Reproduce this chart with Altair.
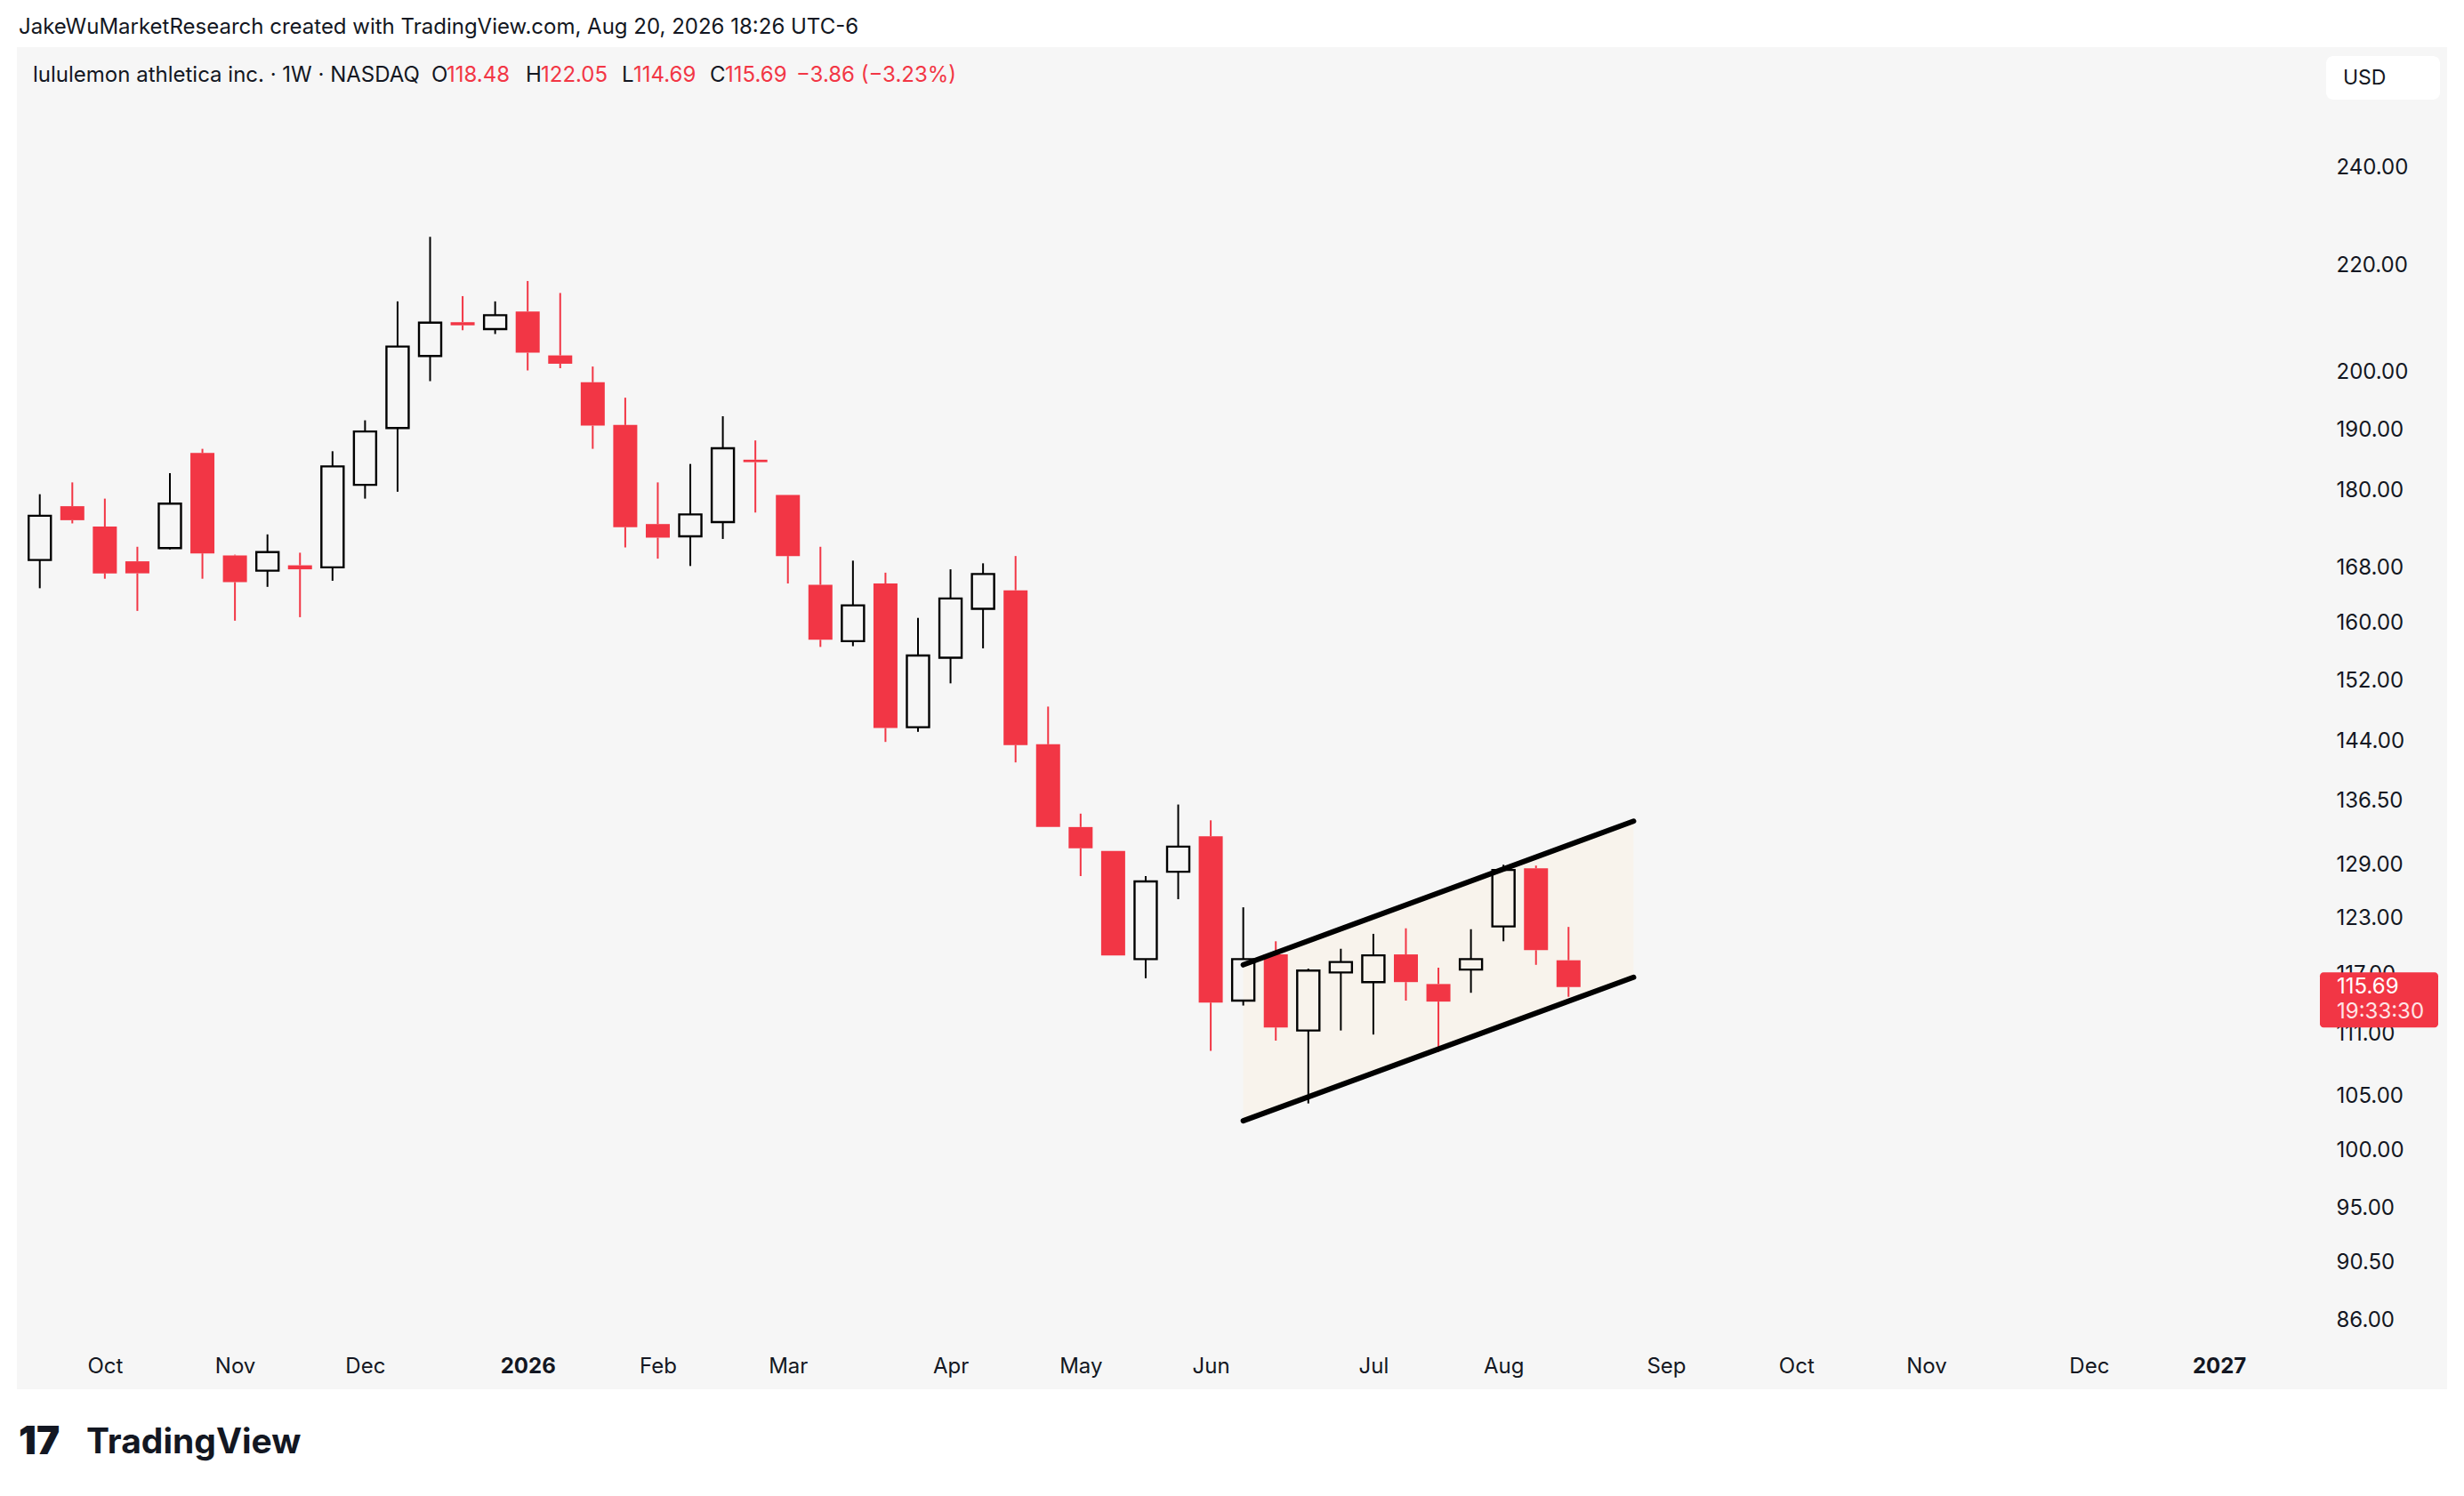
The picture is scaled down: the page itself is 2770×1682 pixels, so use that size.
import altair as alt
import pandas as pd
import numpy as np

# ---------------- data ----------------
dates = [
    "2025-09-22", "2025-09-29", "2025-10-06", "2025-10-13", "2025-10-20", "2025-10-27",
    "2025-11-03", "2025-11-10", "2025-11-17", "2025-11-24", "2025-12-01", "2025-12-08",
    "2025-12-15", "2025-12-22", "2025-12-29", "2026-01-05", "2026-01-12", "2026-01-19",
    "2026-01-26", "2026-02-02", "2026-02-09", "2026-02-16", "2026-02-23", "2026-03-02",
    "2026-03-09", "2026-03-16", "2026-03-23", "2026-03-30", "2026-04-06", "2026-04-13",
    "2026-04-20", "2026-04-27", "2026-05-04", "2026-05-11", "2026-05-18", "2026-05-25",
    "2026-06-01", "2026-06-08", "2026-06-15", "2026-06-22", "2026-06-29", "2026-07-06",
    "2026-07-13", "2026-07-20", "2026-07-27", "2026-08-03", "2026-08-10", "2026-08-17",
]
opens = [169.2, 177.5, 174.3, 169.0, 171.0, 186.1, 169.9, 167.6, 168.4, 168.1, 180.9, 190.3,
         202.9, 209.1, 207.8, 211.1, 203.0, 198.2, 190.8, 174.7, 172.8, 175.0, 185.0, 179.3,
         165.5, 157.4, 165.7, 145.8, 155.1, 162.0, 164.7, 143.6, 133.4, 130.6, 118.6, 128.2,
         132.3, 114.3, 119.1, 111.3, 117.2, 116.2, 119.1, 116.0, 117.5, 122.1, 128.6, 118.48]
highs = [179.4, 181.3, 178.7, 171.2, 182.8, 186.8, 170.0, 173.1, 170.3, 186.4, 191.6, 213.0,
         225.6, 214.0, 213.0, 216.9, 214.6, 201.0, 195.5, 181.3, 184.3, 192.3, 188.2, 179.3,
         171.2, 169.1, 167.3, 160.7, 167.8, 168.7, 169.8, 148.5, 135.0, 130.6, 127.7, 136.1,
         134.2, 124.2, 120.5, 117.6, 119.7, 121.3, 121.9, 117.7, 121.8, 129.0, 128.9, 122.05]
lows = [165.0, 174.8, 166.4, 161.7, 170.8, 166.4, 160.3, 165.2, 160.8, 166.1, 178.7, 179.8,
        198.4, 207.6, 206.9, 200.3, 200.7, 186.8, 171.1, 169.4, 168.3, 172.4, 176.5, 165.7,
        156.6, 156.7, 143.9, 145.2, 151.6, 156.4, 141.3, 133.4, 127.7, 119.0, 116.6, 125.1,
        109.3, 113.8, 110.3, 104.3, 111.3, 110.9, 114.3, 109.2, 115.1, 120.5, 118.0, 114.69]
closes = [176.0, 175.3, 167.2, 167.2, 177.9, 170.2, 165.9, 170.4, 167.8, 183.9, 189.7, 204.6,
          209.0, 208.5, 210.4, 203.5, 201.5, 190.7, 174.2, 172.6, 176.2, 186.9, 184.6, 169.8,
          157.6, 162.5, 145.7, 155.4, 163.5, 167.1, 143.5, 133.4, 130.9, 119.0, 127.1, 131.1,
          114.1, 118.6, 111.6, 117.4, 118.3, 119.0, 116.2, 114.2, 118.6, 128.4, 119.55, 115.69]

# rising channel drawing
channel_dates = ["2026-06-08", "2026-08-31"]
channel_upper = [118.0, 134.1]
channel_lower = [102.7, 116.7]

# axis ticks
price_ticks = [240, 220, 200, 190, 180, 168, 160, 152, 144, 136.5, 129, 123, 117, 111,
               105, 100, 95, 90.5, 86]
month_tick_dates = [(2025, 10, 6), (2025, 11, 3), (2025, 12, 1), (2026, 1, 5), (2026, 2, 2),
                    (2026, 3, 2), (2026, 4, 6), (2026, 5, 4), (2026, 6, 1), (2026, 7, 6),
                    (2026, 8, 3), (2026, 9, 7), (2026, 10, 5), (2026, 11, 2), (2026, 12, 7),
                    (2027, 1, 4)]

header_text = "JakeWuMarketResearch created with TradingView.com, Aug 20, 2026 18:26 UTC-6"
symbol_text = "lululemon athletica inc. · 1W · NASDAQ"
change_text = "\u22123.86 (\u22123.23%)"
countdown_text = "19:33:30"
currency_text = "USD"

# ---------------- styling ----------------
RED = "#F23645"
INK = "#131722"
PANEL = "#F6F6F6"
FONT = "Inter"

W, H = 2732, 1509

df = pd.DataFrame({"date": dates, "open": opens, "high": highs, "low": lows, "close": closes})
df["top"] = df[["open", "close"]].max(axis=1)
df["bot"] = df[["open", "close"]].min(axis=1)
df["dir"] = np.where(df["close"] >= df["open"], "up", "down")

xscale = alt.Scale(
    type="utc",
    domain=[alt.DateTime(year=2025, month=9, date=18, hours=0, minutes=48, utc=True),
            alt.DateTime(year=2027, month=2, date=21, hours=2, minutes=55, utc=True)],
    nice=False,
)
yscale = alt.Scale(type="log", domain=[80.87, 267.1], nice=False)

xaxis = alt.Axis(
    values=[alt.DateTime(year=y, month=m, date=d, utc=True) for (y, m, d) in month_tick_dates],
    labelExpr="utcmonth(datum.value) == 0 ? utcFormat(datum.value, '%Y') : utcFormat(datum.value, '%b')",
    labelFontWeight={"condition": {"test": "utcmonth(datum.value) == 0", "value": "bold"}, "value": "normal"},
    title=None, grid=False, domain=False, ticks=False, tickSize=0,
    labelPadding=0, offset=-26, labelBaseline="middle", labelAlign="center",
    labelOverlap=False, labelFlush=False, labelBound=False,
    labelFont=FONT, labelFontSize=24, labelColor=INK,
)
yaxis = alt.Axis(
    values=price_ticks, format=".2f", orient="right",
    title=None, grid=False, domain=False, ticks=False, tickSize=0,
    labelPadding=0, offset=-125, labelAlign="left", labelBaseline="middle",
    labelOverlap=False, labelFlush=False, labelBound=False,
    labelFont=FONT, labelFontSize=24, labelColor=INK, zindex=0,
)

dir_color = alt.Color("dir:N", scale=alt.Scale(domain=["up", "down"], range=["#000000", RED]), legend=None)

base = alt.Chart(df)

# channel background
ch_df = pd.DataFrame({"date": channel_dates, "upper": channel_upper, "lower": channel_lower})
channel_fill = alt.Chart(ch_df).mark_area(color="#F8F3EC", opacity=1).encode(
    x=alt.X("date:T", scale=xscale, axis=xaxis),
    y=alt.Y("upper:Q", scale=yscale, axis=yaxis),
    y2="lower:Q",
)

upper_wick = base.mark_rule(strokeWidth=2).encode(
    x=alt.X("date:T", scale=xscale),
    y=alt.Y("high:Q", scale=yscale),
    y2="top:Q",
    color=dir_color,
)
lower_wick = base.mark_rule(strokeWidth=2).encode(
    x=alt.X("date:T", scale=xscale),
    y=alt.Y("bot:Q", scale=yscale),
    y2="low:Q",
    color=dir_color,
)
down_body = base.transform_filter(alt.datum.dir == "down").mark_bar(size=27, color=RED).encode(
    x=alt.X("date:T", scale=xscale),
    y=alt.Y("open:Q", scale=yscale),
    y2="close:Q",
)
up_body = base.transform_filter(alt.datum.dir == "up").mark_bar(
    size=25, fill="transparent", stroke="#000000", strokeWidth=2.4
).encode(
    x=alt.X("date:T", scale=xscale),
    y=alt.Y("open:Q", scale=yscale),
    y2="close:Q",
)

ch_long = pd.DataFrame({
    "date": channel_dates + channel_dates,
    "price": channel_upper + channel_lower,
    "line": ["upper", "upper", "lower", "lower"],
})
channel_lines = alt.Chart(ch_long).mark_line(color="#000000", strokeWidth=6, strokeCap="round").encode(
    x=alt.X("date:T", scale=xscale),
    y=alt.Y("price:Q", scale=yscale),
    detail="line:N",
)

# last price tag on the price scale
last_df = pd.DataFrame({"p": [closes[-1]], "lbl": [f"{closes[-1]:.2f}"], "cd": [countdown_text]})
price_tag = alt.Chart(last_df).mark_rect(color=RED, cornerRadius=4, yOffset=-16.5, y2Offset=45.5).encode(
    x=alt.value(2589), x2=alt.value(2722),
    y=alt.Y("p:Q", scale=yscale), y2="p:Q",
)
price_tag_text = alt.Chart(last_df).mark_text(
    align="left", baseline="middle", font=FONT, fontSize=24, color="#FFFFFF"
).encode(x=alt.value(2608), y=alt.Y("p:Q", scale=yscale), text="lbl:N")
price_tag_cd = alt.Chart(last_df).mark_text(
    align="left", baseline="middle", font=FONT, fontSize=24, color="#FFE4E6", dy=28
).encode(x=alt.value(2608), y=alt.Y("p:Q", scale=yscale), text="cd:N")


def label(text, x, y, size=24, color=INK, weight="normal", align="left", baseline="middle"):
    return alt.Chart(pd.DataFrame({"t": [text]})).mark_text(
        align=align, baseline=baseline, font=FONT, fontSize=size, color=color, fontWeight=weight
    ).encode(x=alt.value(x), y=alt.value(y), text="t:N")


usd_box = alt.Chart(pd.DataFrame({"t": [currency_text]})).mark_rect(
    color="#FFFFFF", cornerRadius=8
).encode(x=alt.value(2596), x2=alt.value(2724), y=alt.value(10), y2=alt.value(59))

texts = [
    label(header_text, 2, -22, size=24),
    label(symbol_text, 18, 32, size=24),
    label("O", 466, 32, size=24),
    label(f"{opens[-1]:.2f}", 483, 32, size=24, color=RED),
    label("H", 572, 32, size=24),
    label(f"{highs[-1]:.2f}", 589, 32, size=24, color=RED),
    label("L", 680, 32, size=24),
    label(f"{lows[-1]:.2f}", 693, 32, size=24, color=RED),
    label("C", 779, 32, size=24),
    label(f"{closes[-1]:.2f}", 796, 32, size=24, color=RED),
    label(change_text, 876, 32, size=24, color=RED),
    label(currency_text, 2615, 35, size=23),
    label("17", 2, 1569, size=44, weight=900),
    label("TradingView", 78, 1569, size=39, weight="bold"),
]

chart = alt.layer(
    channel_fill, upper_wick, lower_wick, down_body, up_body, channel_lines,
    price_tag, price_tag_text, price_tag_cd, usd_box, *texts
).properties(
    width=W, height=H,
    autosize=alt.AutoSizeParams(type="none"),
    padding={"left": 11, "top": 45, "right": 11, "bottom": 112},
    background="#FFFFFF",
).configure_view(fill=PANEL, strokeWidth=0)

chart.save("out.html", embed_options={"renderer": "svg", "actions": False})
